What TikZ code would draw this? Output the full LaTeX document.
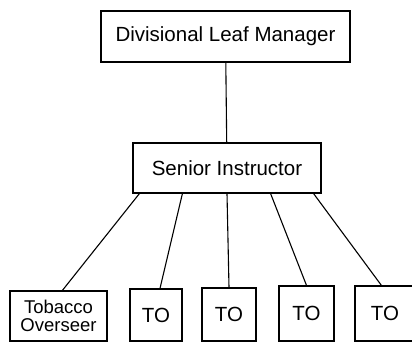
\documentclass[tikz,border=0pt]{standalone}
\usepackage{fontspec}
\setmainfont{Liberation Sans}
\usetikzlibrary{calc}
\tikzset{
  box/.style={draw, line width=1.2pt, inner sep=0pt, align=center,
    font=\fontsize{20.5}{17}\selectfont},
  link/.style={line width=1.1pt}
}
\begin{document}
\begin{tikzpicture}[x=1pt,y=1pt]
	\useasboundingbox (0,0) rectangle (412,343);
	\node[box, minimum width=249pt, minimum height=51pt] (M) at (225.5, 306.5) {Divisional Leaf Manager};
	\node[box, minimum width=188pt, minimum height=50pt] (S) at (227, 175) {Senior Instructor};
	\node[box, minimum width=97pt, minimum height=50pt, font=\fontsize{18.5}{18.5}\selectfont] (T) at (58.5, 27) {Tobacco\\Overseer};
	\node[box, minimum width=52pt, minimum height=52pt] (O1) at (156, 28) {TO};
	\node[box, minimum width=54pt, minimum height=53pt] (O2) at (229, 28.5) {TO};
	\node[box, minimum width=55pt, minimum height=55pt] (O3) at (306.5, 29.5) {TO};
	\node[box, minimum width=60pt, minimum height=55pt] (O4) at (385, 29.5) {TO};
	\draw[link] (M) -- (S);
	\draw[link] ([xshift=7pt]S.south west) -- ([xshift=53pt]T.north west);
	\draw[link] ([xshift=50pt]S.south west) -- ([xshift=4pt]O1.north);
	\draw[link] (S.south) -- (O2.north);
	\draw[link] ([xshift=-51pt]S.south east) -- (O3.north);
	\draw[link] ([xshift=-8pt]S.south east) -- ([xshift=27pt]O4.north west);
\end{tikzpicture}
\end{document}
